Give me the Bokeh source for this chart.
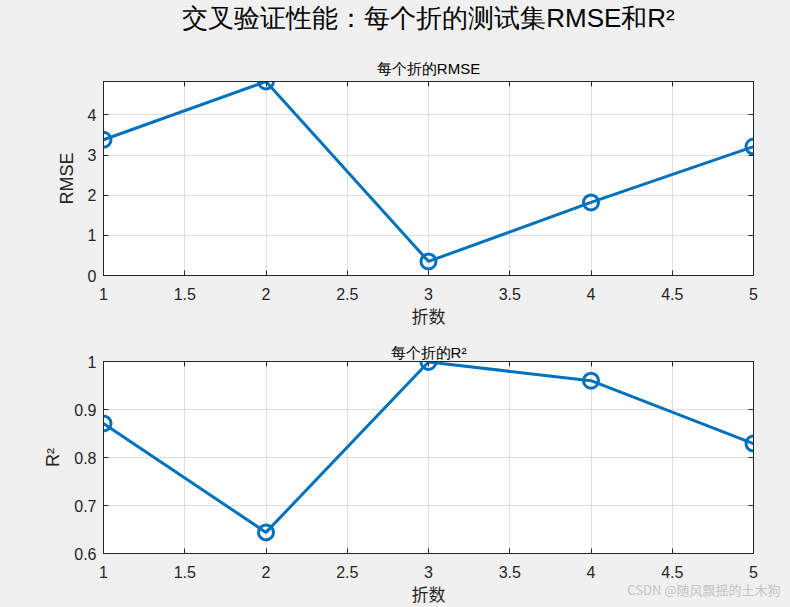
from bokeh.plotting import figure
from bokeh.models import Title, LinearAxis, FixedTicker, Range1d, Label
from bokeh.layouts import column
from bokeh.embed import file_html
from bokeh.resources import INLINE

folds = [1, 2, 3, 4, 5]
rmse = [3.38, 4.83, 0.35, 1.82, 3.21]
r2 = [0.871, 0.644, 0.999, 0.960, 0.829]

x_ticks = [1, 1.5, 2, 2.5, 3, 3.5, 4, 4.5, 5]
x_tick_labels = ["1", "1.5", "2", "2.5", "3", "3.5", "4", "4.5", "5"]
rmse_ticks = [0, 1, 2, 3, 4]
rmse_tick_labels = ["0", "1", "2", "3", "4"]
r2_ticks = [0.6, 0.7, 0.8, 0.9, 1.0]
r2_tick_labels = ["0.6", "0.7", "0.8", "0.9", "1"]

main_title = "交叉验证性能：每个折的测试集RMSE和R²"
top_title = "每个折的RMSE"
bottom_title = "每个折的R²"
x_label = "折数"
watermark = "CSDN @随风飘摇的土木狗"

BLUE = "#0072BD"
DARK = "#262626"
BG = "#f0f0f0"
CJK = "Noto Sans CJK SC"
LAT = "Liberation Sans"


def style_axis(ax, ticks, labels, show_labels=True):
    ax.ticker = FixedTicker(ticks=ticks)
    ax.minor_tick_line_color = None
    ax.major_tick_in = 5
    ax.major_tick_out = 0
    ax.axis_line_color = DARK
    ax.major_tick_line_color = DARK
    if show_labels:
        ax.major_label_overrides = dict(zip(ticks, labels))
        ax.major_label_text_color = DARK
        ax.major_label_text_font = LAT
        ax.major_label_text_font_size = "16px"
        ax.major_label_standoff = 7
    else:
        ax.major_label_text_color = None
        ax.major_label_text_font_size = "1px"
        ax.major_label_standoff = 0


def make_fig(height, top, bottom, yvals, yticks, ylabels, yrange, ylab, sub, sub_so):
    p = figure(width=790, height=height, output_backend="svg", toolbar_location=None,
               x_range=Range1d(1, 5), y_range=Range1d(*yrange),
               min_border_left=103, min_border_right=37,
               min_border_top=top, min_border_bottom=bottom)
    p.background_fill_color = "white"
    p.border_fill_color = BG
    p.outline_line_color = DARK
    p.outline_line_width = 1
    xb = p.xaxis[0]
    yl = p.yaxis[0]
    style_axis(xb, x_ticks, x_tick_labels)
    style_axis(yl, yticks, ylabels)
    xb.major_label_standoff = 12
    xb.axis_label = x_label
    xb.axis_label_text_font = CJK
    xb.axis_label_text_font_size = "17px"
    xb.axis_label_text_font_style = "normal"
    xb.axis_label_text_color = DARK
    xb.axis_label_standoff = 0
    yl.axis_label = ylab
    yl.axis_label_text_font = LAT
    yl.axis_label_text_font_size = "18px"
    yl.axis_label_text_font_style = "normal"
    yl.axis_label_text_color = DARK
    yl.axis_label_standoff = 8
    for place, tk, lb in (("above", x_ticks, x_tick_labels), ("right", yticks, ylabels)):
        ax = LinearAxis()
        style_axis(ax, tk, lb, show_labels=False)
        p.add_layout(ax, place)
    p.xgrid.ticker = FixedTicker(ticks=x_ticks)
    p.ygrid.ticker = FixedTicker(ticks=yticks)
    for g in (p.xgrid[0], p.ygrid[0]):
        g.grid_line_color = DARK
        g.grid_line_alpha = 0.15
    p.line(folds, yvals, line_width=3, color=BLUE)
    p.scatter(folds, yvals, marker="circle", size=15, fill_color=None,
              line_color=BLUE, line_width=3)
    p.add_layout(Title(text=sub, align="center", text_font=LAT, text_font_size="15px",
                       text_font_style="normal", text_color="black", standoff=sub_so), "above")
    return p


# header figure holding the overall title
p0 = figure(width=790, height=44, output_backend="svg", toolbar_location=None,
            min_border=0, x_range=Range1d(0, 1), y_range=Range1d(0, 1))
p0.axis.visible = False
p0.grid.visible = False
p0.outline_line_color = None
p0.background_fill_color = BG
p0.border_fill_color = BG
p0.add_layout(Title(text=main_title, align="center", text_font=LAT, text_font_size="26px",
                    text_font_style="normal", text_color="black", standoff=0), "above")

p1 = make_fig(289, 37, 58, rmse, rmse_ticks, rmse_tick_labels, (0, 4.83), "RMSE",
              top_title, 10)
p2 = make_fig(294, 28, 74, r2, r2_ticks, r2_tick_labels, (0.6, 1.0), "R²", bottom_title, 1)
p2.add_layout(Label(x=677, y=38, x_units="screen", y_units="screen", text=watermark,
                    text_align="right", text_baseline="middle", text_color="#c4c4c4",
                    text_font=CJK, text_font_size="13px"), "below")

layout = column(p0, p1, p2, spacing=0, styles={"background-color": BG})
open("out.html", "w").write(file_html(layout, INLINE))
